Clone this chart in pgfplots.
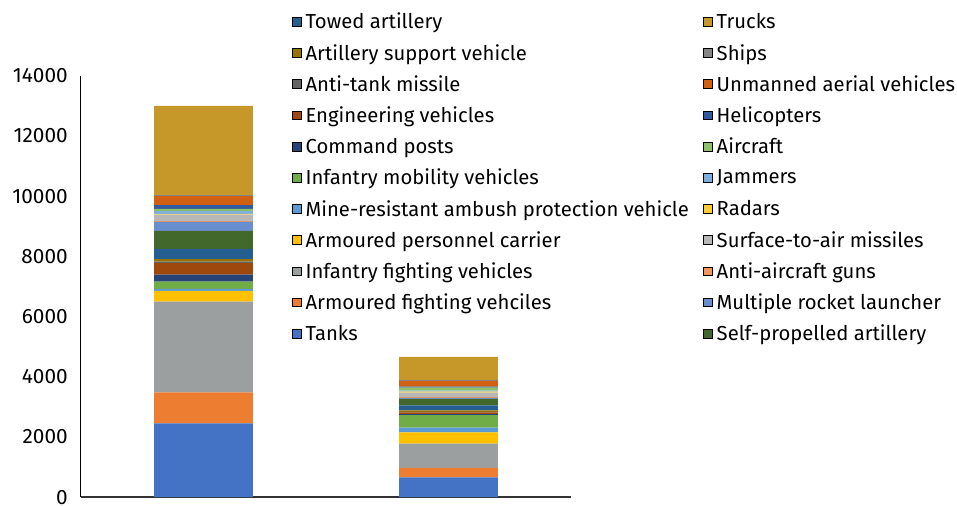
\documentclass[border=0pt]{standalone}
\usepackage{fontspec}
\setmainfont{Fira Sans}
\usepackage{pgfplots}
\usepackage{pgfplotstable}
\pgfplotsset{compat=1.18}
\definecolor{cTanks}{HTML}{4472C4}
\definecolor{cAFV}{HTML}{ED7D31}
\definecolor{cIFV}{HTML}{9C9FA0}
\definecolor{cAPC}{HTML}{FFC000}
\definecolor{cMRAP}{HTML}{5B9BD5}
\definecolor{cIMV}{HTML}{70AD47}
\definecolor{cCmd}{HTML}{264478}
\definecolor{cEng}{HTML}{9E480E}
\definecolor{cATM}{HTML}{636363}
\definecolor{cArtSup}{HTML}{997300}
\definecolor{cTowed}{HTML}{255E91}
\definecolor{cSPA}{HTML}{43682B}
\definecolor{cMRL}{HTML}{698ED0}
\definecolor{cAA}{HTML}{F1975A}
\definecolor{cSAM}{HTML}{B7B7B7}
\definecolor{cRadars}{HTML}{FFCD33}
\definecolor{cJammers}{HTML}{7CAFDD}
\definecolor{cAircraft}{HTML}{8CC168}
\definecolor{cHeli}{HTML}{335AA1}
\definecolor{cUAV}{HTML}{D26012}
\definecolor{cShips}{HTML}{848484}
\definecolor{cTrucks}{HTML}{C69829}
\pgfplotstableread{
x Tanks AFV IFV APC MRAP IMV Cmd Eng ATM ArtSup Towed SPA MRL AA SAM Radars Jammers Aircraft Heli UAV Ships Trucks
0 2450 1030 3020 356 66 243 232 378 55 85 335 598 300 25 215 25 90 80 120 300 35 2962
1 660 312 808 375 155 420 33 53 23 43 166 222 33 23 153 33 33 100 33 189 33 764
}\datatable
\begin{document}
\begin{tikzpicture}
\path (0,0) rectangle (957pt,506pt);
\begin{axis}[
  at={(81pt,8pt)}, anchor=south west,
  scale only axis, width=491pt, height=422pt,
  ybar stacked, bar width=99pt,
  xmin=-0.5, xmax=1.5, ymin=0, ymax=14000,
  axis x line*=bottom, axis y line*=left,
  x axis line style={draw=black!80, line width=1.6pt},
  y axis line style={draw=black, line width=0.8pt},
  xtick=\empty,
  ytick={0,2000,4000,6000,8000,10000,12000,14000},
  scaled y ticks=false,
  major tick length=0pt,
  /pgf/number format/assume math mode=true,
  /pgf/number format/1000 sep={},
  yticklabel style={font=\fontsize{20.8}{24}\selectfont, inner sep=0pt, anchor=east, xshift=-13pt},
  legend style={at={(0.4297,1.154)}, anchor=north west,
    draw=none, fill=none, inner sep=0pt, row sep=9.9pt,
    font=\fontsize{20.3}{24}\selectfont,
    /tikz/every odd column/.append style={column sep=2.5pt},
    /tikz/every even column/.append style={column sep=12pt}},
  legend columns=2,
  legend cell align=left,
  legend image code/.code={\fill[#1] (0pt,-4.2pt) rectangle (9pt,4.6pt);},
]
\addplot[fill=cTanks, draw=none, forget plot] table[x=x, y=Tanks] {\datatable};
\addplot[fill=cAFV, draw=none, forget plot] table[x=x, y=AFV] {\datatable};
\addplot[fill=cIFV, draw=none, forget plot] table[x=x, y=IFV] {\datatable};
\addplot[fill=cAPC, draw=none, forget plot] table[x=x, y=APC] {\datatable};
\addplot[fill=cMRAP, draw=none, forget plot] table[x=x, y=MRAP] {\datatable};
\addplot[fill=cIMV, draw=none, forget plot] table[x=x, y=IMV] {\datatable};
\addplot[fill=cCmd, draw=none, forget plot] table[x=x, y=Cmd] {\datatable};
\addplot[fill=cEng, draw=none, forget plot] table[x=x, y=Eng] {\datatable};
\addplot[fill=cATM, draw=none, forget plot] table[x=x, y=ATM] {\datatable};
\addplot[fill=cArtSup, draw=none, forget plot] table[x=x, y=ArtSup] {\datatable};
\addplot[fill=cTowed, draw=none, forget plot] table[x=x, y=Towed] {\datatable};
\addplot[fill=cSPA, draw=none, forget plot] table[x=x, y=SPA] {\datatable};
\addplot[fill=cMRL, draw=none, forget plot] table[x=x, y=MRL] {\datatable};
\addplot[fill=cAA, draw=none, forget plot] table[x=x, y=AA] {\datatable};
\addplot[fill=cSAM, draw=none, forget plot] table[x=x, y=SAM] {\datatable};
\addplot[fill=cRadars, draw=none, forget plot] table[x=x, y=Radars] {\datatable};
\addplot[fill=cJammers, draw=none, forget plot] table[x=x, y=Jammers] {\datatable};
\addplot[fill=cAircraft, draw=none, forget plot] table[x=x, y=Aircraft] {\datatable};
\addplot[fill=cHeli, draw=none, forget plot] table[x=x, y=Heli] {\datatable};
\addplot[fill=cUAV, draw=none, forget plot] table[x=x, y=UAV] {\datatable};
\addplot[fill=cShips, draw=none, forget plot] table[x=x, y=Ships] {\datatable};
\addplot[fill=cTrucks, draw=none, forget plot] table[x=x, y=Trucks] {\datatable};
\addlegendimage{fill=cTowed}\addlegendentry{Towed artillery}
\addlegendimage{fill=cTrucks}\addlegendentry{Trucks}
\addlegendimage{fill=cArtSup}\addlegendentry{Artillery support vehicle}
\addlegendimage{fill=cShips}\addlegendentry{Ships}
\addlegendimage{fill=cATM}\addlegendentry{Anti-tank missile}
\addlegendimage{fill=cUAV}\addlegendentry{Unmanned aerial vehicles}
\addlegendimage{fill=cEng}\addlegendentry{Engineering vehicles}
\addlegendimage{fill=cHeli}\addlegendentry{Helicopters}
\addlegendimage{fill=cCmd}\addlegendentry{Command posts}
\addlegendimage{fill=cAircraft}\addlegendentry{Aircraft}
\addlegendimage{fill=cIMV}\addlegendentry{Infantry mobility vehicles}
\addlegendimage{fill=cJammers}\addlegendentry{Jammers}
\addlegendimage{fill=cMRAP}\addlegendentry{Mine-resistant ambush protection vehicle}
\addlegendimage{fill=cRadars}\addlegendentry{Radars}
\addlegendimage{fill=cAPC}\addlegendentry{Armoured personnel carrier}
\addlegendimage{fill=cSAM}\addlegendentry{Surface-to-air missiles}
\addlegendimage{fill=cIFV}\addlegendentry{Infantry fighting vehicles}
\addlegendimage{fill=cAA}\addlegendentry{Anti-aircraft guns}
\addlegendimage{fill=cAFV}\addlegendentry{Armoured fighting vehciles}
\addlegendimage{fill=cMRL}\addlegendentry{Multiple rocket launcher}
\addlegendimage{fill=cTanks}\addlegendentry{Tanks}
\addlegendimage{fill=cSPA}\addlegendentry{Self-propelled artillery}
\end{axis}
\end{tikzpicture}
\end{document}
